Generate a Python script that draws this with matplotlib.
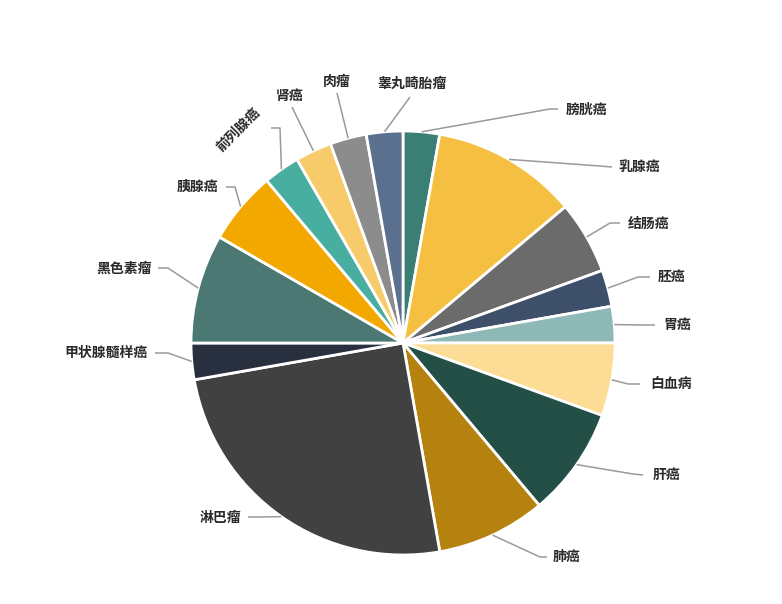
import numpy as np
import matplotlib
matplotlib.use("Agg")
import matplotlib.pyplot as plt

plt.rcParams["font.family"] = ["Noto Sans CJK SC", "DejaVu Sans"]

# data: clockwise from 12 o'clock
labels = ["膀胱癌", "乳腺癌", "结肠癌", "胚癌", "胃癌", "白血病", "肝癌", "肺癌",
          "淋巴瘤", "甲状腺髓样癌", "黑色素瘤", "胰腺癌", "前列腺癌", "肾癌", "肉瘤", "睾丸畸胎瘤"]
values = [1, 4, 2, 1, 1, 2, 3, 3, 9, 1, 3, 2, 1, 1, 1, 1]
colors = ["#3a7e74", "#f5bf42", "#6b6b6b", "#3e5069", "#8fb9b6", "#fddc96", "#234f47", "#b5820f",
          "#414141", "#283040", "#4b7873", "#f3a800", "#48ae9f", "#f7cb6a", "#8c8c8c", "#5b6f8f"]

# label layout in image pixels: elbow, line end, text anchor, ha, rotation
CX, CY, R = 403, 343, 212
layout = [
    ((550, 109), (558, 109), (566, 110), "left", 0),
    ((600, 166), (612, 167), (618, 167), "left", 0),
    ((610, 223), (620, 223), (628, 224), "left", 0),
    ((638, 277), (650, 277), (658, 277), "left", 0),
    ((640, 325), (655, 325), (663, 325), "left", 0),
    ((628, 384), (640, 384), (650, 384), "left", 0),
    ((633, 474), (643, 475), (653, 475), "left", 0),
    ((540, 557), (547, 557), (553, 557), "left", 0),
    ((260, 517), (248, 517), (241, 518), "right", 0),
    ((168, 353), (155, 353), (148, 353), "right", 0),
    ((168, 268), (158, 268), (152, 269), "right", 0),
    ((235, 187), (226, 187), (218, 187), "right", 0),
    ((280, 128), (271, 128), (238, 130), "center", 45),
    ((292, 107), (292, 107), (290, 96), "center", 0),
    ((337, 93), (337, 93), (337, 82), "center", 0),
    ((410, 97), (410, 97), (412, 84), "center", 0),
]


def px(p):
    return ((p[0] - CX) / R, (CY - p[1]) / R)


W, H = 782, 604
fig = plt.figure(figsize=(W / 100, H / 100), dpi=100)
ax = fig.add_axes([0, 0, 1, 1])
ax.pie(values, colors=colors, startangle=90, counterclock=False, radius=1,
       wedgeprops=dict(edgecolor="white", linewidth=2))
ax.set_xlim(-CX / R, (W - CX) / R)
ax.set_ylim((CY - H) / R, CY / R)
ax.axis("off")

total = sum(values)
cum = np.cumsum([0] + values)
for i, name in enumerate(labels):
    mid = np.deg2rad((cum[i] + values[i] / 2) / total * 360)
    start = (np.sin(mid), np.cos(mid))
    elbow, end, txt, ha, rot = layout[i]
    e, n, t = px(elbow), px(end), px(txt)
    ax.plot([start[0], e[0], n[0]], [start[1], e[1], n[1]], color="#9a9a9a", lw=1.1,
            solid_capstyle="butt", zorder=1)
    ax.text(t[0], t[1], name, ha=ha, va="center", rotation=rot, fontsize=10,
            fontweight="heavy", color="#2a2a2a")

fig.savefig("out.png", dpi=100, facecolor="white")
